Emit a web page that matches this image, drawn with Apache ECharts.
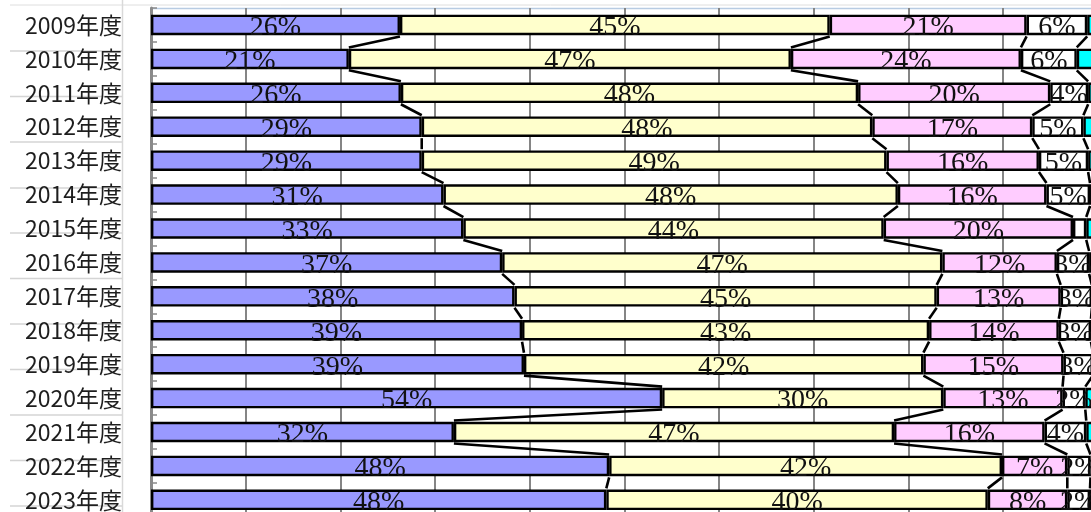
<!DOCTYPE html>
<html>
<head>
<meta charset="utf-8">
<script src="https://cdn.jsdelivr.net/npm/echarts@6/dist/echarts.min.js"></script>
<style>
  html, body { margin: 0; padding: 0; background: #fff; }
  #chart { width: 1091px; height: 512px; }
</style>
</head>
<body>
<div id="chart"></div>
<script>
// Fiscal years, top to bottom
const categories = ['2009年度','2010年度','2011年度','2012年度','2013年度','2014年度','2015年度',
  '2016年度','2017年度','2018年度','2019年度','2020年度','2021年度','2022年度','2023年度'];

// Share of each group per year (%)
const blueShare   = [26.3, 20.9, 26.4, 28.6, 28.6, 30.9, 33.0, 37.1, 38.4, 39.2, 39.4, 54.0, 32.0, 48.4, 48.1];
const yellowShare = [45.4, 46.7, 48.3, 47.6, 49.1, 48.0, 44.4, 46.5, 44.6, 43.0, 42.2, 29.7, 46.5, 41.5, 40.3];
const pinkShare   = [20.8, 24.3, 20.3, 16.9, 16.1, 15.7, 20.0, 12.1, 13.1, 13.7, 14.8, 12.6, 15.9,  6.9,  8.4];
const whiteShare  = [ 6.4,  5.9,  4.0,  5.4,  5.2,  4.6,  1.4,  3.4,  3.3,  3.4,  3.1,  2.4,  4.4,  2.45, 2.4];
const cyanShare   = [ 1.1,  2.2,  1.0,  1.5,  1.0,  0.8,  1.2,  0.9,  0.6,  0.7,  0.5,  1.3,  1.2,  0.75, 0.8];

// Value-axis ticks (percent)
const axisMin = 0, axisMax = 100, axisStep = 10;

const groups = [
  { name: 'A', data: blueShare,   color: '#9999FF', label: true },
  { name: 'B', data: yellowShare, color: '#FFFFCC', label: true },
  { name: 'C', data: pinkShare,   color: '#FFCCFF', label: true },
  { name: 'D', data: whiteShare,  color: '#FFFFFF', label: true },
  { name: 'E', data: cyanShare,   color: '#00FFFF', label: false }
];

const BAR_W = 20.5;
const BORDER = 2.4;

// running totals at the end of each group, per year
const cumulative = categories.map((_, i) => {
  let s = 0;
  return groups.map(g => (s += g.data[i]));
});

const barSeries = groups.map(g => ({
  name: g.name,
  type: 'bar',
  stack: 'total',
  barWidth: BAR_W,
  data: g.data,
  itemStyle: { color: g.color, borderColor: '#000', borderWidth: BORDER },
  label: {
    show: g.label,
    position: 'inside',
    offset: [0, 3],
    color: '#111',
    fontFamily: 'Liberation Serif',
    fontSize: 28,
    formatter: p => p.value < 2 ? '' : Math.round(p.value) + '%'
  },
  emphasis: { disabled: true },
  animation: false
}));

// Series lines joining the segment ends of neighbouring bars
const connectorSeries = {
  type: 'custom',
  z: 5,
  silent: true,
  animation: false,
  data: categories.slice(0, -1).map((_, i) => [0, i]),
  encode: { x: 0, y: 1 },
  renderItem: (params, api) => {
    const i = params.dataIndex;
    const half = BAR_W / 2 + BORDER / 2;
    const children = cumulative[i].map((v, k) => {
      const p1 = api.coord([v, i]);
      const p2 = api.coord([cumulative[i + 1][k], i + 1]);
      return {
        type: 'line',
        shape: { x1: p1[0], y1: p1[1] + half, x2: p2[0], y2: p2[1] - half },
        style: { stroke: '#000', lineWidth: 2.6 }
      };
    });
    return { type: 'group', children };
  }
};

// Sheet cell borders behind the chart
const rowLines = [51, 96.5, 142, 188, 233, 278.5, 324, 369.5, 415, 460.5, 506];
const graphics = [
  { type: 'line', z: -10, shape: { x1: 10, y1: 5, x2: 1091, y2: 5 }, style: { stroke: '#dedede', lineWidth: 1 } },
  { type: 'line', z: -10, shape: { x1: 151, y1: 8.5, x2: 1091, y2: 8.5 }, style: { stroke: '#b7cbe2', lineWidth: 1.5 } },
  { type: 'line', z: -10, shape: { x1: 122.5, y1: 0, x2: 122.5, y2: 512 }, style: { stroke: '#d9d9d9', lineWidth: 1.5 } }
].concat(rowLines.map(y => ({
  type: 'line', z: -10,
  shape: { x1: 10, y1: y, x2: 122, y2: y },
  style: { stroke: '#d4d4d4', lineWidth: 1.5 }
})));

const chart = echarts.init(document.getElementById('chart'), null, { renderer: 'canvas' });
chart.setOption({
  backgroundColor: '#fff',
  animation: false,
  grid: { left: 151, right: -6.6, top: 8, bottom: -4.8, outerBoundsMode: 'none', containLabel: false },
  xAxis: {
    type: 'value',
    min: axisMin, max: axisMax, interval: axisStep,
    axisLabel: { show: false },
    axisLine: { show: false },
    axisTick: { show: false },
    splitLine: { show: true, lineStyle: { color: '#858585', width: 2 } }
  },
  yAxis: {
    type: 'category',
    data: categories,
    inverse: true,
    axisLine: { show: true, lineStyle: { color: '#8a8a8a', width: 3 } },
    axisTick: { show: true, inside: true, length: 6, lineStyle: { color: '#8a8a8a', width: 1.5 } },
    axisLabel: {
      margin: 29,
      color: '#1e1e1e',
      fontFamily: 'Noto Sans CJK JP',
      fontSize: 23
    }
  },
  graphic: graphics,
  series: barSeries.concat([connectorSeries])
});
</script>
</body>
</html>
